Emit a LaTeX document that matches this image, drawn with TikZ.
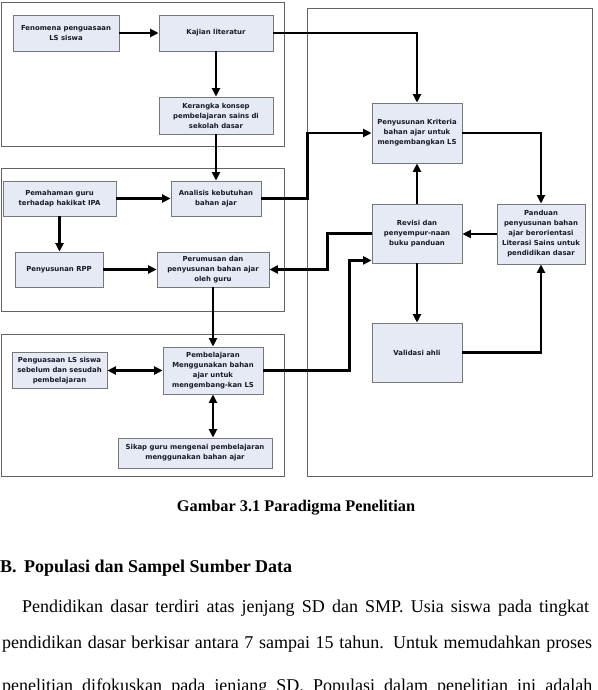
\documentclass[tikz,border=0pt]{standalone}
\usepackage{fontspec}
\setmainfont{Liberation Serif}
\newfontfamily\boxfont{DejaVu Sans}
\usetikzlibrary{arrows.meta}
\definecolor{boxfill}{RGB}{230,234,245}
\definecolor{boxline}{RGB}{120,120,120}
\definecolor{grpline}{RGB}{100,100,100}
\definecolor{boxtext}{RGB}{25,25,40}

\begin{document}
\begin{tikzpicture}[x=1pt,y=-1pt,>={Triangle[length=8.5pt,width=8pt]},
  box/.style={draw=boxline,fill=boxfill,line width=0.8pt,inner sep=0pt,align=center,text=boxtext,
    font=\boxfont\bfseries\fontsize{6.9}{10}\selectfont},
  grp/.style={draw=grpline,line width=1pt},
  flow/.style={line width=2.4pt}]
\useasboundingbox (0,0) rectangle (597,690);
% kelompok
\draw[grp] (1,3) rectangle (284,146);
\draw[grp] (1,168) rectangle (284,311);
\draw[grp] (1,334) rectangle (284,476);
\draw[grp] (307,9) rectangle (592,476);
% kotak kiri
\node[box,minimum width=106pt,minimum height=36pt] (fen) at (66,33) {Fenomena penguasaan\\LS siswa};
\node[box,minimum width=114pt,minimum height=36pt] (kaj) at (216,33) {Kajian literatur};
\node[box,minimum width=114pt,minimum height=37pt] (ker) at (216,115.5) {Kerangka konsep\\pembelajaran sains di\\sekolah dasar};
\node[box,minimum width=113pt,minimum height=35pt] (pem) at (59.5,198.5) {Pemahaman guru\\terhadap hakikat IPA};
\node[box,minimum width=90pt,minimum height=35pt] (ana) at (216,198.5) {Analisis kebutuhan\\bahan ajar};
\node[box,minimum width=88pt,minimum height=35pt] (rpp) at (59,269.5) {Penyusunan RPP};
\node[box,minimum width=112pt,minimum height=35pt] (per) at (213,269.5) {Perumusan dan\\penyusunan bahan ajar\\oleh guru};
\node[box,minimum width=95pt,minimum height=36pt] (pgs) at (59.5,370.5) {Penguasaan LS siswa\\sebelum dan sesudah\\pembelajaran};
\node[box,minimum width=100pt,minimum height=47pt] (pbl) at (213,370.5) {Pembelajaran\\Menggunakan bahan\\ajar untuk\\mengembang-kan LS};
\node[box,minimum width=154pt,minimum height=30pt] (sik) at (195,453) {Sikap guru mengenai pembelajaran\\menggunakan bahan ajar};
% kotak kanan
\node[box,minimum width=90pt,minimum height=60pt] (kri) at (417,133) {Penyusunan Kriteria\\bahan ajar untuk\\mengembangkan LS};
\node[box,minimum width=90pt,minimum height=59pt] (rev) at (417,233.5) {Revisi dan\\penyempur-naan\\buku panduan};
\node[box,minimum width=88pt,minimum height=60pt] (pan) at (541,234) {Panduan\\penyusunan bahan\\ajar berorientasi\\Literasi Sains untuk\\pendidikan dasar};
\node[box,minimum width=90pt,minimum height=59pt] (val) at (417,352.5) {Validasi ahli};
% panah
\draw[flow,->] (fen) -- (kaj);
\draw[flow,->] (kaj) -- (ker);
\draw[flow,->] (kaj.east) -| (kri.north);
\draw[flow,->] (ker) -- (ana);
\draw[flow,->] (pem) -- (ana);
\draw[flow,->] (pem.south) -- (pem.south |- rpp.north);
\draw[flow,->] (rpp) -- (per);
\draw[flow,->] (per) -- (pbl);
\draw[flow,->] (ana.east) -- ++(46,0) |- (kri.west);
\draw[flow,->] (kri.east) -| (pan.north);
\draw[flow,->] (rev) -- (kri);
\draw[flow,->] (pan.west) -- (pan.west -| rev.east);
\draw[flow,->] (rev.west) -- ++(-44,0) |- (per.east);
\draw[flow,->] (pbl.east) -- ++(86,0) |- ([yshift=3pt]rev.south west);
\draw[flow,->] (rev) -- (val);
\draw[flow,->] (val.east) -| (pan.south);
\draw[flow,<->] (pgs.east) -- (pgs.east -| pbl.west);
\draw[flow,<->] (pbl.south) -- (pbl.south |- sik.north);
% teks halaman
\node[font=\bfseries\fontsize{16.3}{18}\selectfont,anchor=base] (cap) at (296,511) {Gambar 3.1 Paradigma Penelitian};
\node[font=\bfseries\fontsize{18}{20}\selectfont,anchor=base west,inner sep=0pt] (sub) at (0,572) {\makebox[24pt][l]{B.}Populasi dan Sampel Sumber Data};
\node[font=\fontsize{18}{20}\selectfont,anchor=base west,inner sep=0pt] (par1) at (22,612) {\makebox[567pt][s]{Pendidikan dasar terdiri atas jenjang SD dan SMP. Usia siswa pada tingkat}};
\node[font=\fontsize{18}{20}\selectfont,anchor=base west,inner sep=0pt] (par2) at (2,648) {\makebox[590pt][s]{pendidikan dasar berkisar antara 7 sampai 15 tahun. Untuk memudahkan proses}};
\node[font=\fontsize{18}{20}\selectfont,anchor=base west,inner sep=0pt] (par3) at (2,691) {\makebox[590pt][s]{penelitian difokuskan pada jenjang SD. Populasi dalam penelitian ini adalah}};
\end{tikzpicture}
\end{document}
